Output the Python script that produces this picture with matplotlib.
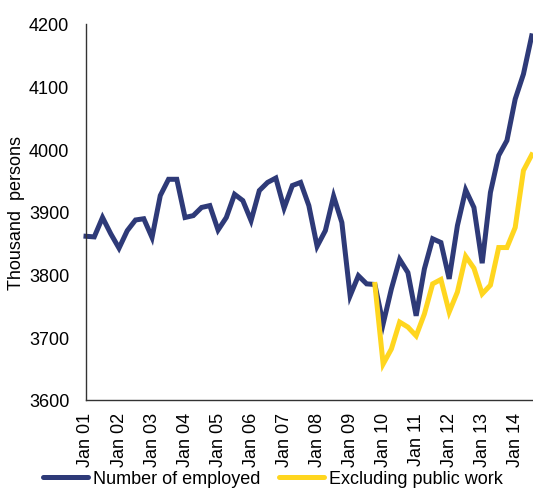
import matplotlib
matplotlib.use("Agg")
import matplotlib.pyplot as plt

plt.rcParams['font.family'] = ['Liberation Sans', 'DejaVu Sans']

# quarterly employment, thousand persons, Q1 2001 - Q3 2014
employed = [3861, 3860, 3891, 3865, 3842, 3870, 3887, 3889, 3859, 3926,
            3952, 3952, 3891, 3894, 3907, 3910, 3871, 3891, 3928, 3918,
            3886, 3934, 3947, 3954, 3906, 3942, 3947, 3910, 3845, 3870,
            3925, 3883, 3766, 3798, 3785, 3784, 3721, 3777, 3824, 3803,
            3734, 3809, 3857, 3851, 3793, 3878, 3935, 3907, 3818, 3931,
            3990, 4014, 4080, 4120, 4181]
# excluding public work, from Q4 2009
excl_public = [3784, 3657, 3681, 3724, 3716, 3702, 3737, 3785, 3792, 3740,
               3772, 3829, 3810, 3769, 3783, 3843, 3843, 3875, 3966, 3991]
excl_start = 35
years = ['01', '02', '03', '04', '05', '06', '07', '08', '09', '10',
         '11', '12', '13', '14']

navy = '#2E3A78'
yellow = '#FFD61F'

fig = plt.figure(figsize=(5.33, 4.89), dpi=100)
ax = fig.add_axes([86 / 533, 88.3 / 489, (531.7 - 86) / 533, 375.7 / 489])

x1 = list(range(len(employed)))
x2 = list(range(excl_start, excl_start + len(excl_public)))
ax.plot(x1, employed, color=navy, lw=3.6, solid_joinstyle='miter',
        clip_on=False, label='Number of employed')
ax.plot(x2, excl_public, color=yellow, lw=3.6, solid_joinstyle='miter',
        clip_on=False, label='Excluding public work')

ax.set_xlim(0, 54)
ax.set_ylim(3600, 4200)
ax.set_yticks(range(3600, 4201, 100))
ax.set_xticks(range(0, 53, 4))
ax.set_xticklabels(['Jan ' + y for y in years], rotation=90)
ax.tick_params(axis='both', length=0, labelsize=13)
ax.tick_params(axis='x', pad=9)
ax.tick_params(axis='y', pad=12)

for s in ['top', 'right']:
    ax.spines[s].set_visible(False)
for s in ['left', 'bottom']:
    ax.spines[s].set_linewidth(1.0)
    ax.spines[s].set_color('#333333')

ax.set_ylabel('Thousand  persons', fontsize=13)
ax.yaxis.set_label_coords(-(86 - 25) / 445.7, 0.5)

leg = fig.legend(loc='center', bbox_to_anchor=(0.512, 0.019), ncol=2,
                 frameon=False, fontsize=13, handlelength=2.5,
                 handletextpad=0.3, columnspacing=1.0, borderpad=0,
                 borderaxespad=0)
for h in leg.legend_handles:
    h.set_solid_capstyle('round')

fig.savefig('out.png', dpi=100)
